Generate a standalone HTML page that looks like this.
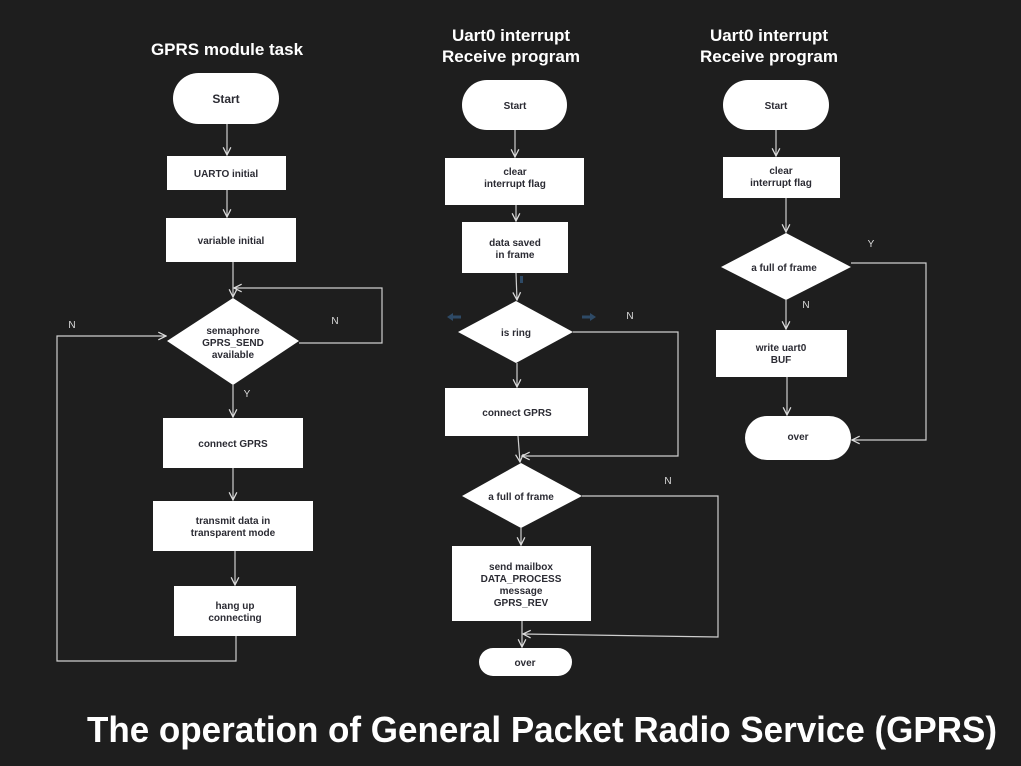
<!DOCTYPE html>
<html><head><meta charset="utf-8"><style>
html,body{margin:0;padding:0;background:#1e1e1e;}
svg{display:block;}
.t{font-family:"Liberation Sans",sans-serif;font-weight:bold;fill:#2b2b33;font-size:10px;text-anchor:middle;}
.h{font-family:"Liberation Sans",sans-serif;font-weight:bold;fill:#fff;font-size:17px;text-anchor:middle;}
.l{font-family:"Liberation Sans",sans-serif;fill:#ddd;font-size:10px;text-anchor:middle;}
.w{fill:#fff;}
.c{stroke:#cfcfcf;stroke-width:1.2;fill:none;}
</style></head><body>
<svg width="1021" height="766" viewBox="0 0 1021 766" xmlns="http://www.w3.org/2000/svg">
<defs>
<marker id="a" viewBox="0 0 10 10" refX="9" refY="5" markerWidth="8" markerHeight="8" orient="auto-start-reverse"><path d="M1,1 L9,5 L1,9" fill="none" stroke="#dcdcdc" stroke-width="1.3"/></marker>
</defs>
<rect width="1021" height="766" fill="#1e1e1e"/>

<!-- Column 1 -->
<text class="h" x="227" y="55">GPRS module task</text>
<rect class="w" x="173" y="73" width="106" height="51" rx="25.5"/>
<text class="t" x="226" y="103" style="font-size:12px">Start</text>
<rect class="w" x="167" y="156" width="119" height="34"/>
<text class="t" x="226" y="177">UARTO initial</text>
<rect class="w" x="166" y="218" width="130" height="44"/>
<text class="t" x="231" y="244">variable initial</text>
<polygon class="w" points="233,298 299,341 233,385 167,341"/>
<text class="t" x="233" y="334">semaphore</text>
<text class="t" x="233" y="346">GPRS_SEND</text>
<text class="t" x="233" y="358">available</text>
<rect class="w" x="163" y="418" width="140" height="50"/>
<text class="t" x="233" y="447">connect GPRS</text>
<rect class="w" x="153" y="501" width="160" height="50"/>
<text class="t" x="233" y="524">transmit data in</text>
<text class="t" x="233" y="536">transparent mode</text>
<rect class="w" x="174" y="586" width="122" height="50"/>
<text class="t" x="235" y="609">hang up</text>
<text class="t" x="235" y="621">connecting</text>

<line class="c" x1="227" y1="124" x2="227" y2="155" marker-end="url(#a)"/>
<line class="c" x1="227" y1="190" x2="227" y2="217" marker-end="url(#a)"/>
<line class="c" x1="233" y1="262" x2="233" y2="297" marker-end="url(#a)"/>
<polyline class="c" points="299,343 382,343 382,288 234,288" marker-end="url(#a)"/>
<text class="l" x="335" y="324">N</text>
<line class="c" x1="233" y1="385" x2="233" y2="417" marker-end="url(#a)"/>
<text class="l" x="247" y="397">Y</text>
<line class="c" x1="233" y1="468" x2="233" y2="500" marker-end="url(#a)"/>
<line class="c" x1="235" y1="551" x2="235" y2="585" marker-end="url(#a)"/>
<polyline class="c" points="236,636 236,661 57,661 57,336 166,336" marker-end="url(#a)"/>
<text class="l" x="72" y="328">N</text>

<!-- Column 2 -->
<text class="h" x="511" y="41">Uart0 interrupt</text>
<text class="h" x="511" y="62">Receive program</text>
<rect class="w" x="462" y="80" width="105" height="50" rx="25"/>
<text class="t" x="515" y="109">Start</text>
<rect class="w" x="445" y="158" width="139" height="47"/>
<text class="t" x="515" y="175">clear</text>
<text class="t" x="515" y="187">interrupt flag</text>
<rect class="w" x="462" y="222" width="106" height="51"/>
<text class="t" x="515" y="246">data saved</text>
<text class="t" x="515" y="258">in frame</text>
<polygon class="w" points="516,301 573,332 516,363 458,332"/>
<text class="t" x="516" y="336">is ring</text>
<rect class="w" x="445" y="388" width="143" height="48"/>
<text class="t" x="517" y="416">connect GPRS</text>
<polygon class="w" points="521,463 582,496 521,528 462,496"/>
<text class="t" x="521" y="500">a full of frame</text>
<rect class="w" x="452" y="546" width="139" height="75"/>
<text class="t" x="521" y="570">send mailbox</text>
<text class="t" x="521" y="582">DATA_PROCESS</text>
<text class="t" x="521" y="594">message</text>
<text class="t" x="521" y="606">GPRS_REV</text>
<rect class="w" x="479" y="648" width="93" height="28" rx="14"/>
<text class="t" x="525" y="666">over</text>

<line class="c" x1="515" y1="130" x2="515" y2="157" marker-end="url(#a)"/>
<line class="c" x1="516" y1="205" x2="516" y2="221" marker-end="url(#a)"/>
<line class="c" x1="516" y1="273" x2="517" y2="300" marker-end="url(#a)"/>
<line class="c" x1="517" y1="363" x2="517" y2="387" marker-end="url(#a)"/>
<line class="c" x1="518" y1="436" x2="520" y2="462" marker-end="url(#a)"/>
<polyline class="c" points="573,332 678,332 678,456 522,456" marker-end="url(#a)"/>
<text class="l" x="630" y="319">N</text>
<line class="c" x1="521" y1="528" x2="521" y2="545" marker-end="url(#a)"/>
<line class="c" x1="522" y1="621" x2="522" y2="647" marker-end="url(#a)"/>
<polyline class="c" points="582,496 718,496 718,637 523,634" marker-end="url(#a)"/>
<text class="l" x="668" y="484">N</text>
<!-- faint blue arrows -->
<path d="M447,317 L453,313 L453,315.5 L461,315.5 L461,318.5 L453,318.5 L453,321 Z" fill="#2e4a66"/>
<path d="M596,317 L590,313 L590,315.5 L582,315.5 L582,318.5 L590,318.5 L590,321 Z" fill="#2e4a66"/>
<rect x="520" y="276" width="3" height="7" fill="#2e4a66"/>

<!-- Column 3 -->
<text class="h" x="769" y="41">Uart0 interrupt</text>
<text class="h" x="769" y="62">Receive program</text>
<rect class="w" x="723" y="80" width="106" height="50" rx="25"/>
<text class="t" x="776" y="109">Start</text>
<rect class="w" x="723" y="157" width="117" height="41"/>
<text class="t" x="781" y="174">clear</text>
<text class="t" x="781" y="186">interrupt flag</text>
<polygon class="w" points="786,233 851,267 786,300 721,267"/>
<text class="t" x="784" y="271">a full of frame</text>
<rect class="w" x="716" y="330" width="131" height="47"/>
<text class="t" x="781" y="351">write uart0</text>
<text class="t" x="781" y="363">BUF</text>
<rect class="w" x="745" y="416" width="106" height="44" rx="22"/>
<text class="t" x="798" y="440">over</text>

<line class="c" x1="776" y1="130" x2="776" y2="156" marker-end="url(#a)"/>
<line class="c" x1="786" y1="198" x2="786" y2="232" marker-end="url(#a)"/>
<line class="c" x1="786" y1="300" x2="786" y2="329" marker-end="url(#a)"/>
<text class="l" x="806" y="308">N</text>
<line class="c" x1="787" y1="377" x2="787" y2="415" marker-end="url(#a)"/>
<polyline class="c" points="851,263 926,263 926,440 852,440" marker-end="url(#a)"/>
<text class="l" x="871" y="247">Y</text>

<!-- Bottom title -->
<text x="87" y="742" textLength="910" lengthAdjust="spacingAndGlyphs" style="font-family:'Liberation Sans',sans-serif;font-weight:bold;font-size:36px;fill:#fff;">The operation of General Packet Radio Service (GPRS)</text>
</svg>
</body></html>
